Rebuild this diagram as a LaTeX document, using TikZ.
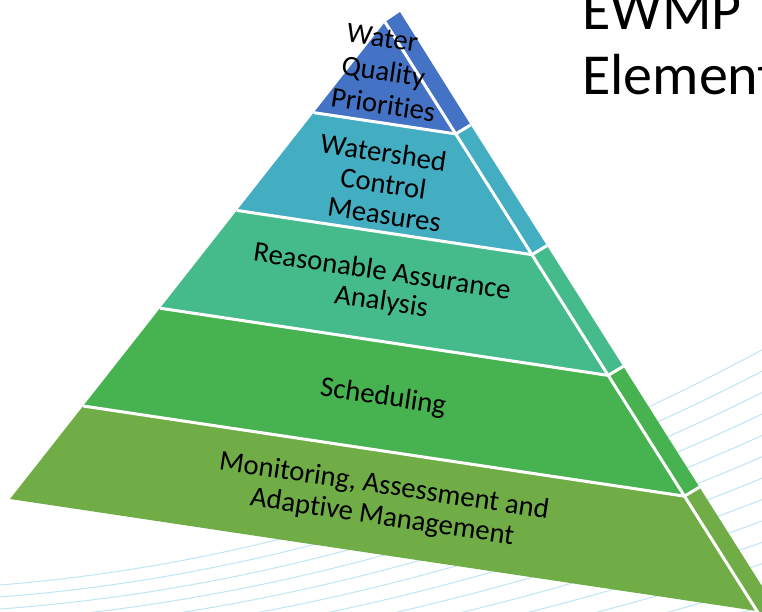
\documentclass[tikz,border=0pt]{standalone}
\usepackage{fontspec}
\setmainfont{Carlito}[Ligatures={NoCommon}]
\usetikzlibrary{calc}
\definecolor{layA}{RGB}{68,114,196}
\definecolor{layB}{RGB}{67,173,193}
\definecolor{layC}{RGB}{69,187,140}
\definecolor{layD}{RGB}{70,178,80}
\definecolor{layE}{RGB}{112,173,71}
\definecolor{swoosh}{RGB}{190,228,245}
\begin{document}
\begin{tikzpicture}[x=1pt,y=-1pt,
  swooshline/.style={draw=swoosh,line width=1pt},
  gap/.style={draw=white,line width=3pt},
  lbl/.style={font=\fontsize{28.7}{31}\selectfont,anchor=base,rotate=-8.5,inner sep=0pt,text=black},
  ttl/.style={font=\fontsize{58}{65}\selectfont,anchor=base west,inner sep=0pt,text=black}]
\useasboundingbox (0,0) rectangle (762,612);
\clip (0,0) rectangle (762,612);
% background swoosh lines
\foreach \k in {0,...,18}{
  \draw[swooshline] plot[domain=0:762,samples=40,smooth]
    (\x,{585+12*\k-(1-0.04*\k)*((0.01732*\x)*(0.01732*\x)+0.08*\x)});
}
% pyramid geometry
\coordinate (A) at (385,22);
\coordinate (LB) at (10,499);
\coordinate (RB) at (757,611);
\coordinate (Rx) at ($(A)!1.04!(RB)$);
\coordinate (O0) at ($(A)+(15,-10)$);
\coordinate (Ox) at ($(Rx)+(15,-9)$);
\foreach \i/\t in {1/0.19,2/0.395,3/0.6,4/0.805}{
  \coordinate (L\i) at ($(A)!\t!(LB)$);
  \coordinate (R\i) at ($(A)!\t!(RB)$);
  \coordinate (O\i) at ($(R\i)+(15,-9)$);
}
% front faces
\fill[layA] (A) -- (L1) -- (R1) -- cycle;
\fill[layB] (L1) -- (L2) -- (R2) -- (R1) -- cycle;
\fill[layC] (L2) -- (L3) -- (R3) -- (R2) -- cycle;
\fill[layD] (L3) -- (L4) -- (R4) -- (R3) -- cycle;
\fill[layE] (L4) -- (LB) -- (RB) -- (R4) -- cycle;
% side faces
\fill[layA] (A) -- (R1) -- (O1) -- (O0) -- cycle;
\fill[layB] (R1) -- (R2) -- (O2) -- (O1) -- cycle;
\fill[layC] (R2) -- (R3) -- (O3) -- (O2) -- cycle;
\fill[layD] (R3) -- (R4) -- (O4) -- (O3) -- cycle;
\fill[layE] (R4) -- (Rx) -- (Ox) -- (O4) -- cycle;
% white gaps
\draw[gap] (A) -- (Rx);
\foreach \i in {1,...,4}{
  \draw[gap] (L\i) -- (R\i) -- (O\i);
}
% labels
\node[lbl] (tA1) at (381,47) {Water};
\node[lbl] (tA2) at (382,81) {Quality};
\node[lbl] (tA3) at (382,114) {Priorities};
\node[lbl] (tB1) at (382,162) {Watershed};
\node[lbl] (tB2) at (382,193) {Control};
\node[lbl] (tB3) at (383,224) {Measures};
\node[lbl] (tC1) at (381,280) {Reasonable Assurance};
\node[lbl] (tC2) at (380,310) {Analysis};
\node[lbl] (tD1) at (382,405) {Scheduling};
\node[lbl] (tE1) at (383,494) {Monitoring, Assessment and};
\node[lbl] (tE2) at (381,525) {Adaptive Management};
% title
\node[ttl] (h1) at (582,30) {EWMP};
\node[ttl] (h2) at (582,95) {Elements};
\end{tikzpicture}
\end{document}
